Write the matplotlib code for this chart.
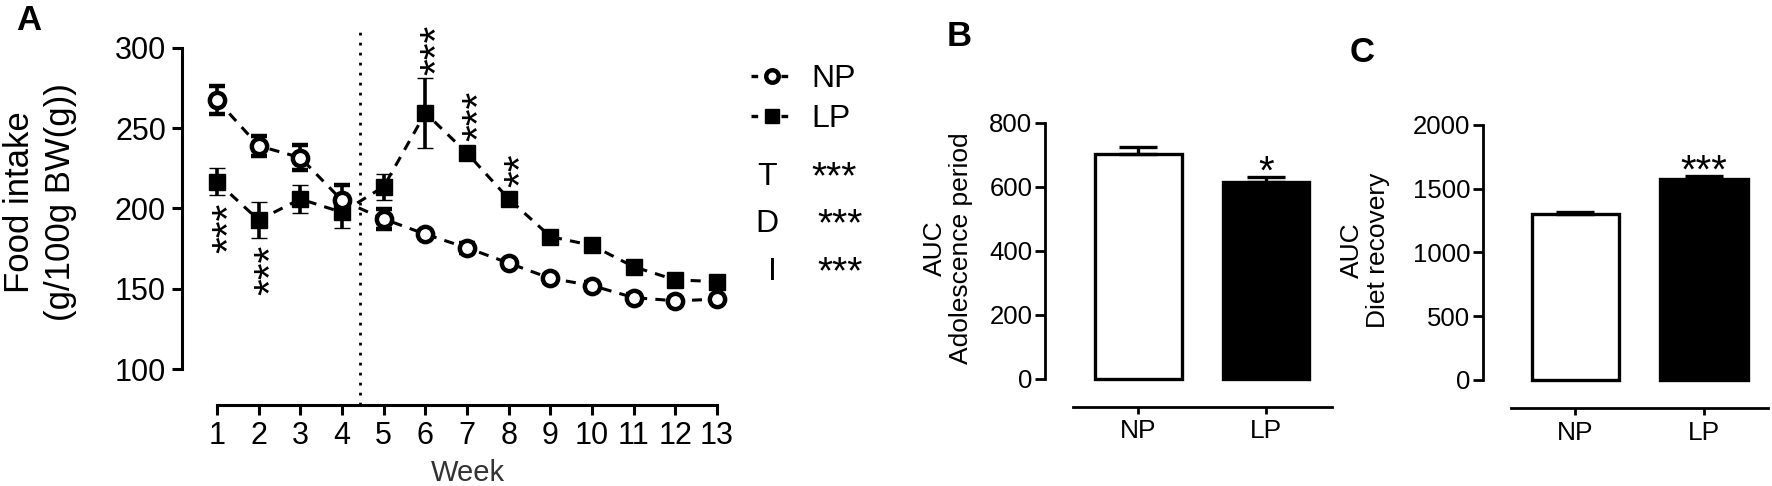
import matplotlib
matplotlib.use('Agg')
import matplotlib.pyplot as plt
from matplotlib.lines import Line2D

plt.rcParams['font.family'] = ['Liberation Sans', 'DejaVu Sans']

# ---------------- data ----------------
weeks = list(range(1, 14))
np_mean = [267.6, 239.0, 231.7, 205.0, 193.5, 184.0, 175.5, 166.0, 156.5, 152.0, 144.5, 142.5, 143.5]
np_sem = [9, 6, 8, 9.5, 6, 2, 3, 2, 2, 2, 2, 2, 2]
lp_mean = [216.7, 192.8, 205.9, 197.6, 213.6, 259.5, 234.5, 206.0, 182.5, 177.0, 163.7, 155.5, 154.5]
lp_sem = [8.5, 11, 9, 9.5, 8, 22, 4, 3, 2, 2, 2, 2, 2]
sig_weeks = [1, 2, 6, 7, 8]
sig_marks = ['***', '***', '***', '***', '**']
sig_side = ['below', 'below', 'above', 'above', 'above']
diet_switch = 4.43

groups = ['NP', 'LP']
auc_adol = [701, 614]
auc_adol_sem = [24, 17]
auc_adol_sig = ['', '*']
auc_rec = [1300, 1576]
auc_rec_sem = [18, 25]
auc_rec_sig = ['', '***']
anova_terms = ['T', 'D', 'I']
anova_sig = ['***', '***', '***']

W, H = 1772, 486
DPI = 100
fig = plt.figure(figsize=(W / DPI, H / DPI), dpi=DPI)


def box(l, t, r, b):
    return [l / W, 1 - b / H, (r - l) / W, (b - t) / H]


def fx(x):
    return x / W


def fy(y):
    return 1 - y / H


# ---------------- Panel A ----------------
axA = fig.add_axes(box(182, 25, 740, 405))
axA.set_xlim(0.16, 13.55)
axA.set_ylim(77.6, 314.3)
dash = (0, (3.3, 2.7))
axA.errorbar(weeks, np_mean, yerr=np_sem, fmt='o', color='black', ls=dash, lw=2.2,
             mfc='white', mec='black', ms=11, mew=3.2, capsize=6, elinewidth=2.6,
             capthick=2.6, zorder=4)
axA.errorbar(weeks, lp_mean, yerr=lp_sem, fmt='s', color='black', ls=dash, lw=2.2,
             mfc='black', mec='black', ms=12, mew=1, capsize=6, elinewidth=2.6,
             capthick=2.6, zorder=3)
axA.axvline(diet_switch, 0, 0.99, color='black', ls=(0, (1, 2.6)), lw=2.0, zorder=1)

for s in ['top', 'right']:
    axA.spines[s].set_visible(False)
for s in ['left', 'bottom']:
    axA.spines[s].set_linewidth(2.2)
axA.spines['left'].set_bounds(100, 300)
axA.spines['bottom'].set_bounds(1, 13)
axA.set_yticks([100, 150, 200, 250, 300])
axA.set_xticks(weeks)
axA.tick_params(axis='both', length=7.5, width=2.2, labelsize=22, pad=4)

fig.canvas.draw()
p0 = axA.transData.transform((0, 0))
p1 = axA.transData.transform((0, 1))
pts_per_unit = (p1[1] - p0[1]) * 72 / DPI
for w, m, side in zip(sig_weeks, sig_marks, sig_side):
    i = weeks.index(w)
    sem_pts = lp_sem[i] * pts_per_unit
    extra = max(0, 6.5 - sem_pts)
    if side == 'above':
        axA.annotate(m, xy=(w, lp_mean[i] + lp_sem[i]), xytext=(9.5, 2 + extra),
                     textcoords='offset points', rotation=90, ha='center', va='bottom',
                     fontsize=31)
    else:
        axA.annotate(m, xy=(w, lp_mean[i] - lp_sem[i]), xytext=(9.5, -5 - extra),
                     textcoords='offset points', rotation=90, ha='center', va='top',
                     fontsize=31)

fig.text(fx(40), fy(202), 'Food intake\n(g/100g BW(g))', rotation=90, ha='center',
         va='center', fontsize=25, linespacing=1.3, multialignment='center')
fig.text(fx(468), fy(473), 'Week', ha='center', va='center', fontsize=21, color='#333333')

handles = [Line2D([], [], color='black', ls=(0, (2, 2.5)), lw=2.4, marker='o', mfc='white',
                  mec='black', ms=9, mew=3.2),
           Line2D([], [], color='black', ls=(0, (2, 2.5)), lw=2.4, marker='s', mfc='black',
                  mec='black', ms=10)]
fig.legend(handles, groups, loc='upper left', bbox_to_anchor=(fx(751), fy(64)),
           frameon=False, fontsize=23, handlelength=1.3, handletextpad=0.6,
           labelspacing=0.32, borderaxespad=0, borderpad=0)
for k, (term, sig) in enumerate(zip(anova_terms, anova_sig)):
    yc = 177 + 47.5 * k
    fig.text(fx(767 + (5 if term == 'I' else 0)), fy(yc), term, ha='center', va='center',
             fontsize=23)
    fig.text(fx(811 + (0 if k == 0 else 6)), fy(yc + 11), sig, ha='left', va='baseline',
             fontsize=28)

fig.text(fx(29), fy(20), 'A', ha='center', va='center', fontsize=25, fontweight='bold')


# ---------------- bar panels ----------------
def bar_panel(ax, values, sems, sigs, ylim, xlim, ybounds, xbounds, yticks):
    ax.set_xlim(*xlim)
    ax.set_ylim(*ylim)
    x = list(range(len(groups)))
    ax.bar(x, values, width=0.68, color=['white', 'black'], edgecolor='black', linewidth=2.4,
           yerr=[[0] * len(sems), sems],
           error_kw=dict(capsize=14, elinewidth=2.4, capthick=2.4, ecolor='black'),
           zorder=2)
    for xi, v, s, g in zip(x, values, sems, sigs):
        if g:
            ax.annotate(g, xy=(xi, v + s), xytext=(0, -5), textcoords='offset points',
                        ha='center', va='baseline', fontsize=29)
    for s in ['top', 'right']:
        ax.spines[s].set_visible(False)
    for s in ['left', 'bottom']:
        ax.spines[s].set_linewidth(2.0)
    ax.spines['left'].set_bounds(*ybounds)
    ax.spines['bottom'].set_bounds(*xbounds)
    ax.set_yticks(yticks)
    ax.set_xticks(x)
    ax.set_xticklabels(groups)
    ax.tick_params(axis='y', length=7, width=2.0, labelsize=18.5, pad=2)
    ax.tick_params(axis='x', length=5, width=2.0, labelsize=19, pad=4)


axB = fig.add_axes(box(1045, 115, 1340, 406.7))
bar_panel(axB, auc_adol, auc_adol_sem, auc_adol_sig, (-86.5, 824), (-0.73, 1.58),
          (0, 800), (-0.51, 1.52), [0, 200, 400, 600, 800])
fig.text(fx(948), fy(248), 'AUC\nAdolescence period', rotation=90, ha='center', va='center',
         fontsize=19, linespacing=1.1, multialignment='center')
fig.text(fx(959), fy(37), 'B', ha='center', va='center', fontsize=25, fontweight='bold')

axC = fig.add_axes(box(1483, 115, 1770, 408))
bar_panel(axC, auc_rec, auc_rec_sem, auc_rec_sig, (-219.6, 2078), (-0.72, 1.514),
          (0, 2000), (-0.5, 1.5), [0, 500, 1000, 1500, 2000])
fig.text(fx(1365), fy(250), 'AUC\nDiet recovery', rotation=90, ha='center', va='center',
         fontsize=19, linespacing=1.1, multialignment='center')
fig.text(fx(1362), fy(52), 'C', ha='center', va='center', fontsize=25, fontweight='bold')

fig.savefig('out.png', dpi=DPI)
